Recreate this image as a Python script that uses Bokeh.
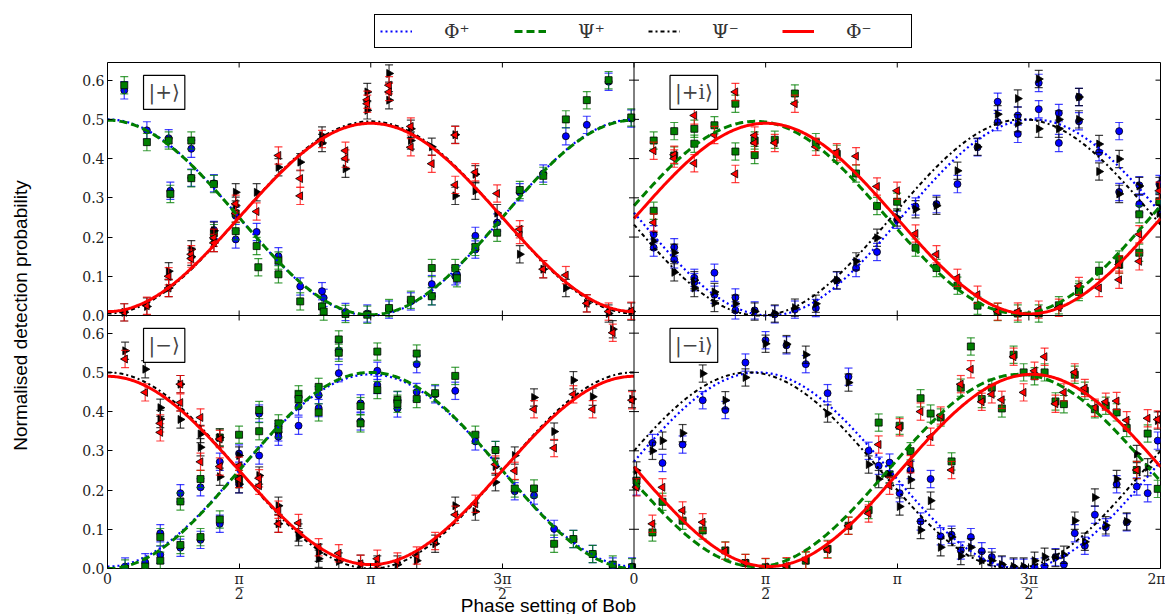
import numpy as np
from bokeh.plotting import figure
from bokeh.layouts import column
from bokeh.models import Range1d, FixedTicker, Span, Label, Legend, LegendItem
from bokeh.embed import file_html
from bokeh.resources import INLINE

PI = np.pi

# ---------------- tick labels ----------------
x_ticks = [0.0, PI / 2, PI, 3 * PI / 2, 2 * PI]
x_tick_text = ["0", "\u03c0\u0332\n2", "\u03c0", "3\u0332\u03c0\u0332\n2", "2\u03c0"]
y_ticks = [0.0, 0.1, 0.2, 0.3, 0.4, 0.5, 0.6]
y_tick_text = ["0.0", "0.1", "0.2", "0.3", "0.4", "0.5", "0.6"]

curve_labels = ["\u03a6\u207a", "\u03a8\u207a", "\u03a8\u207b", "\u03a6\u207b"]
panel_names = ["|+\u27e9", "|+i\u27e9", "|\u2212\u27e9", "|\u2212i\u27e9"]
x_title = "Phase setting of Bob"
y_title = "Normalised detection probability"

# ---------------- model curves: mean + amp*cos(theta - phase) ----------------
plus_curve_mean = [0.25, 0.25, 0.25, 0.25]
plus_curve_amp = [0.25, 0.248, -0.245, -0.24]
plus_curve_phase = [0.0, 0.0, 0.0, 0.0]

plusi_curve_mean = [0.25, 0.25, 0.25, 0.247]
plusi_curve_amp = [0.25, 0.245, 0.25, 0.243]
plusi_curve_phase = [4.76, 1.45, 4.64, 1.5708]

minus_curve_mean = [0.25, 0.25, 0.25, 0.25]
minus_curve_amp = [-0.245, -0.25, 0.25, 0.24]
minus_curve_phase = [0.0, 0.0, 0.0, 0.0]

minusi_curve_mean = [0.25, 0.25, 0.25, 0.25]
minusi_curve_amp = [0.25, 0.245, 0.25, 0.245]
minusi_curve_phase = [1.48, 4.60, 1.37, 4.75]

# ---------------- measured data: |+> ----------------
plus_blue_theta = [0.20, 0.47, 0.73, 0.75, 1.00, 1.00, 1.27, 1.27, 1.53, 1.53, 1.78, 2.04, 2.30, 2.56, 2.58, 2.84,
                   3.10, 3.36, 3.62, 3.87, 3.87, 4.15, 4.17, 4.39, 4.39, 4.65, 4.92, 5.20, 5.47, 5.72, 5.98, 6.25]
plus_blue_val = [0.574, 0.472, 0.452, 0.318, 0.425, 0.351, 0.337, 0.218, 0.254, 0.194, 0.213, 0.151, 0.074, 0.062,
                 0.045, 0.009, 0.005, 0.015, 0.036, 0.080, 0.049, 0.100, 0.105, 0.203, 0.168, 0.237, 0.314, 0.362,
                 0.457, 0.486, 0.596, 0.502]
plus_green_theta = [0.20, 0.47, 0.73, 0.75, 1.00, 1.00, 1.27, 1.27, 1.53, 1.53, 1.78, 1.80, 2.04, 2.04, 2.30, 2.56,
                    2.58, 2.84, 3.10, 3.36, 3.62, 3.87, 3.87, 4.15, 4.17, 4.39, 4.65, 4.92, 5.20, 5.47, 5.72, 5.98,
                    6.25]
plus_green_val = [0.587, 0.442, 0.446, 0.310, 0.446, 0.350, 0.335, 0.210, 0.260, 0.215, 0.177, 0.123, 0.140, 0.105,
                  0.036, 0.023, 0.010, 0.004, 0.002, 0.019, 0.040, 0.121, 0.049, 0.121, 0.095, 0.175, 0.211, 0.320,
                  0.356, 0.500, 0.549, 0.600, 0.505]
plus_black_theta = [0.20, 0.47, 0.73, 0.73, 1.00, 1.00, 1.27, 1.27, 1.53, 1.53, 1.78, 2.04, 2.30, 2.56, 2.56, 2.84,
                    3.10, 3.10, 3.36, 3.36, 3.62, 3.62, 3.87, 4.15, 4.15, 4.39, 4.39, 4.65, 4.92, 5.20, 5.47, 5.72,
                    5.98, 6.25]
plus_black_val = [0.008, 0.023, 0.113, 0.070, 0.169, 0.150, 0.216, 0.185, 0.314, 0.280, 0.314, 0.378, 0.391, 0.459,
                  0.440, 0.374, 0.570, 0.523, 0.617, 0.549, 0.476, 0.446, 0.430, 0.461, 0.305, 0.360, 0.318, 0.261,
                  0.156, 0.118, 0.070, 0.031, 0.005, 0.010]
plus_red_theta = [0.20, 0.47, 0.73, 0.73, 1.00, 1.00, 1.27, 1.27, 1.53, 1.53, 1.78, 2.04, 2.30, 2.30, 2.56, 2.84,
                  2.84, 3.10, 3.10, 3.36, 3.36, 3.62, 3.62, 3.87, 4.15, 4.15, 4.39, 4.65, 4.92, 4.92, 5.20, 5.47,
                  5.72, 5.98, 6.25]
plus_red_val = [0.008, 0.025, 0.100, 0.070, 0.156, 0.145, 0.198, 0.185, 0.285, 0.260, 0.265, 0.408, 0.349, 0.305,
                0.450, 0.400, 0.420, 0.550, 0.540, 0.587, 0.570, 0.482, 0.429, 0.387, 0.460, 0.333, 0.365, 0.311,
                0.220, 0.205, 0.118, 0.103, 0.031, 0.010, 0.012]

# ---------------- measured data: |+i> ----------------
plusi_blue_theta = [0.235, 0.235, 0.48, 0.48, 0.72, 0.72, 0.96, 0.96, 1.21, 1.21, 1.44, 1.68, 1.92, 2.17, 2.42,
                    2.65, 2.90, 3.14, 3.36, 3.61, 3.86, 4.10, 4.34, 4.34, 4.58, 4.58, 4.83, 4.83, 5.07, 5.07, 5.31,
                    5.31, 5.55, 5.79, 5.79, 6.03, 6.03, 6.27, 6.27]
plusi_blue_val = [0.207, 0.173, 0.174, 0.143, 0.096, 0.085, 0.109, 0.053, 0.046, 0.013, 0.013, 0.003, 0.015, 0.019,
                  0.089, 0.121, 0.162, 0.244, 0.278, 0.284, 0.335, 0.429, 0.545, 0.493, 0.510, 0.463, 0.593, 0.526,
                  0.516, 0.440, 0.557, 0.495, 0.416, 0.470, 0.315, 0.332, 0.284, 0.335, 0.288]
plusi_black_theta = [0.235, 0.48, 0.48, 0.72, 0.72, 0.96, 0.96, 1.21, 1.44, 1.68, 1.92, 2.17, 2.42, 2.65, 2.90,
                     3.14, 3.36, 3.61, 3.86, 4.10, 4.34, 4.58, 4.58, 4.83, 4.83, 5.07, 5.07, 5.31, 5.31, 5.55, 5.55,
                     5.79, 5.79, 6.03, 6.27, 6.27]
plusi_black_val = [0.190, 0.160, 0.110, 0.090, 0.070, 0.060, 0.032, 0.030, 0.010, 0.005, 0.020, 0.030, 0.090, 0.138,
                   0.198, 0.250, 0.271, 0.280, 0.369, 0.430, 0.513, 0.553, 0.490, 0.603, 0.476, 0.500, 0.476, 0.557,
                   0.500, 0.437, 0.367, 0.399, 0.310, 0.330, 0.330, 0.260]
plusi_green_theta = [0.235, 0.235, 0.48, 0.48, 0.72, 0.72, 0.96, 1.21, 1.21, 1.44, 1.44, 1.68, 1.92, 2.17, 2.42,
                     2.65, 2.90, 3.14, 3.36, 3.61, 3.86, 4.10, 4.34, 4.58, 4.83, 5.07, 5.31, 5.31, 5.55, 5.79, 5.79,
                     6.03, 6.03, 6.27]
plusi_green_val = [0.446, 0.267, 0.470, 0.408, 0.476, 0.438, 0.485, 0.540, 0.418, 0.446, 0.409, 0.448, 0.566, 0.442,
                   0.412, 0.362, 0.279, 0.290, 0.173, 0.121, 0.076, 0.025, 0.009, 0.005, 0.005, 0.026, 0.066, 0.060,
                   0.114, 0.143, 0.130, 0.258, 0.160, 0.290]
plusi_red_theta = [0.235, 0.235, 0.48, 0.48, 0.72, 0.72, 0.96, 1.21, 1.21, 1.44, 1.44, 1.68, 1.92, 2.17, 2.42,
                   2.65, 2.90, 3.14, 3.36, 3.61, 3.86, 4.10, 4.34, 4.58, 4.83, 5.07, 5.31, 5.55, 5.79, 5.79, 6.03,
                   6.03, 6.27]
plusi_red_val = [0.420, 0.237, 0.410, 0.400, 0.510, 0.388, 0.460, 0.570, 0.361, 0.459, 0.440, 0.440, 0.540, 0.430,
                 0.416, 0.406, 0.329, 0.318, 0.209, 0.156, 0.096, 0.053, 0.010, 0.010, 0.015, 0.020, 0.075, 0.070,
                 0.130, 0.091, 0.207, 0.138, 0.318]

# ---------------- measured data: |-> ----------------
minus_theta = [0.21, 0.45, 0.63, 0.63, 0.87, 0.87, 1.11, 1.11, 1.34, 1.34, 1.57, 1.57, 1.81, 1.81, 2.04, 2.04,
               2.28, 2.28, 2.52, 2.52, 2.76, 2.76, 3.02, 3.02, 3.22, 3.22, 3.46, 3.46, 3.69, 3.69, 3.91, 4.15,
               4.39, 4.63, 4.86, 5.09, 5.33, 5.56, 5.79, 6.03, 6.26]
minus_blue_val = [0.005, 0.016, 0.090, 0.035, 0.192, 0.053, 0.207, 0.073, 0.272, 0.114, 0.293, 0.215, 0.395, 0.288,
                  0.347, 0.336, 0.413, 0.364, 0.442, 0.409, 0.556, 0.498, 0.421, 0.375, 0.504, 0.468, 0.429, 0.408,
                  0.521, 0.450, 0.444, 0.453, 0.324, 0.302, 0.197, 0.186, 0.101, 0.075, 0.037, 0.005, 0.005]
minus_green_val = [0.000, 0.005, 0.080, 0.020, 0.171, 0.060, 0.228, 0.080, 0.334, 0.125, 0.341, 0.228, 0.404,
                   0.350, 0.370, 0.355, 0.444, 0.432, 0.463, 0.398, 0.584, 0.550, 0.414, 0.370, 0.553, 0.455, 0.430,
                   0.420, 0.548, 0.432, 0.447, 0.491, 0.341, 0.302, 0.204, 0.204, 0.063, 0.075, 0.037, 0.010, 0.003]
minus_black_theta = [0.21, 0.45, 0.63, 0.63, 0.87, 0.87, 1.11, 1.11, 1.34, 1.34, 1.57, 1.57, 1.81, 2.04, 2.04,
                     2.28, 2.28, 2.52, 2.52, 2.76, 3.02, 3.22, 3.46, 3.69, 3.91, 4.15, 4.39, 4.63, 4.63, 4.86, 5.09,
                     5.33, 5.56, 5.79, 6.03, 6.26]
minus_black_val = [0.555, 0.508, 0.410, 0.381, 0.470, 0.380, 0.343, 0.309, 0.334, 0.234, 0.288, 0.215, 0.237, 0.160,
                   0.114, 0.092, 0.080, 0.025, 0.040, 0.018, 0.012, 0.010, 0.010, 0.020, 0.063, 0.160, 0.145, 0.260,
                   0.220, 0.288, 0.436, 0.349, 0.480, 0.438, 0.610, 0.432]
minus_red_theta = [0.21, 0.45, 0.63, 0.63, 0.87, 0.87, 1.11, 1.11, 1.34, 1.34, 1.57, 1.57, 1.81, 1.81, 2.04, 2.04,
                   2.28, 2.52, 2.76, 3.02, 3.22, 3.46, 3.69, 3.91, 4.15, 4.39, 4.63, 4.86, 5.09, 5.33, 5.56, 5.79,
                   6.03, 6.26]
minus_red_val = [0.534, 0.449, 0.370, 0.347, 0.470, 0.423, 0.385, 0.272, 0.330, 0.260, 0.262, 0.228, 0.230, 0.211,
                 0.150, 0.114, 0.116, 0.054, 0.039, 0.012, 0.025, 0.018, 0.033, 0.070, 0.137, 0.165, 0.265, 0.249,
                 0.406, 0.307, 0.444, 0.406, 0.601, 0.429]

# ---------------- measured data: |-i> ----------------
minusi_theta = [0.03, 0.22, 0.34, 0.58, 0.82, 1.09, 1.33, 1.57, 1.82, 2.05, 2.31, 2.56, 2.80, 2.92, 3.05, 3.17,
                3.30, 3.42, 3.54, 3.66, 3.79, 3.90, 4.02, 4.15, 4.27, 4.39, 4.53, 4.65, 4.78, 4.90, 5.03, 5.13,
                5.26, 5.38, 5.50, 5.63, 5.76, 5.88, 6.00, 6.13, 6.25]
minusi_blue_val = [0.209, 0.320, 0.269, 0.316, 0.429, 0.404, 0.525, 0.582, 0.569, 0.521, 0.447, 0.489, 0.300,
                   0.262, 0.270, 0.192, 0.251, 0.120, 0.228, 0.082, 0.086, 0.046, 0.080, 0.044, 0.029, 0.008, 0.002,
                   0.002, 0.003, 0.005, 0.029, 0.010, 0.090, 0.058, 0.137, 0.105, 0.215, 0.118, 0.209, 0.192, 0.326]
minusi_black_val = [0.250, 0.300, 0.326, 0.345, 0.497, 0.429, 0.487, 0.573, 0.572, 0.545, 0.395, 0.474, 0.265,
                    0.228, 0.240, 0.158, 0.226, 0.098, 0.173, 0.054, 0.080, 0.032, 0.054, 0.020, 0.020, 0.010,
                    0.005, 0.005, 0.020, 0.030, 0.027, 0.035, 0.122, 0.068, 0.181, 0.110, 0.228, 0.120, 0.292,
                    0.258, 0.377]
minusi_green_val = [0.224, 0.092, 0.170, 0.122, 0.097, 0.046, 0.014, 0.003, 0.004, 0.020, 0.050, 0.109, 0.149,
                    0.372, 0.240, 0.364, 0.299, 0.434, 0.395, 0.385, 0.273, 0.461, 0.566, 0.432, 0.461, 0.408,
                    0.545, 0.500, 0.490, 0.500, 0.426, 0.419, 0.494, 0.453, 0.406, 0.415, 0.398, 0.358, 0.251,
                    0.344, 0.203]
minusi_red_val = [0.207, 0.114, 0.207, 0.148, 0.118, 0.045, 0.014, 0.004, 0.006, 0.021, 0.048, 0.109, 0.140, 0.316,
                  0.211, 0.360, 0.266, 0.400, 0.336, 0.390, 0.251, 0.470, 0.508, 0.425, 0.444, 0.430, 0.540, 0.449,
                  0.504, 0.540, 0.420, 0.449, 0.500, 0.460, 0.410, 0.425, 0.427, 0.378, 0.251, 0.383, 0.380]

error_half = 0.022

# ---------------- layout constants ----------------
FRAME_W, FRAME_H = 1053, 506
BORDER_L, BORDER_R, BORDER_T, BORDER_B = 107, 5, 4, 46
LEGEND_H = 58
CANVAS_W = BORDER_L + FRAME_W + BORDER_R
X_SPAN = 2 * PI
Y_SPAN = 0.645
TICK_PX = 5

SERIF = "DejaVu Serif"
SANS = "Liberation Sans"

colors = ["#0000ff", "#007f00", "#000000", "#ff0000"]
curve_dash = ["2 3", "8 4", "4 3 2 3", "solid"]
curve_width = [2.2, 3.0, 2.0, 3.0]
marker_kind = ["circle", "square", "triangle", "triangle"]
marker_angle = [0.0, 0.0, -PI / 2, PI / 2]
marker_size = [7, 7, 8, 8]

panels = [
    dict(name=panel_names[0], col=0, row=1,
         model=(plus_curve_mean, plus_curve_amp, plus_curve_phase),
         series=[(plus_blue_theta, plus_blue_val), (plus_green_theta, plus_green_val),
                 (plus_black_theta, plus_black_val), (plus_red_theta, plus_red_val)]),
    dict(name=panel_names[1], col=1, row=1,
         model=(plusi_curve_mean, plusi_curve_amp, plusi_curve_phase),
         series=[(plusi_blue_theta, plusi_blue_val), (plusi_green_theta, plusi_green_val),
                 (plusi_black_theta, plusi_black_val), (plusi_red_theta, plusi_red_val)]),
    dict(name=panel_names[2], col=0, row=0,
         model=(minus_curve_mean, minus_curve_amp, minus_curve_phase),
         series=[(minus_theta, minus_blue_val), (minus_theta, minus_green_val),
                 (minus_black_theta, minus_black_val), (minus_red_theta, minus_red_val)]),
    dict(name=panel_names[3], col=1, row=0,
         model=(minusi_curve_mean, minusi_curve_amp, minusi_curve_phase),
         series=[(minusi_theta, minusi_blue_val), (minusi_theta, minusi_green_val),
                 (minusi_theta, minusi_black_val), (minusi_theta, minusi_red_val)]),
]

p = figure(frame_width=FRAME_W, frame_height=FRAME_H, output_backend="svg", toolbar_location=None,
           x_range=Range1d(0, 2 * X_SPAN), y_range=Range1d(0, 2 * Y_SPAN),
           min_border_left=BORDER_L, min_border_right=BORDER_R, min_border_top=BORDER_T,
           min_border_bottom=BORDER_B)
p.grid.visible = False
p.outline_line_color = "black"
p.outline_line_width = 1
p.background_fill_color = "white"
p.border_fill_color = "white"

# ---- ticks ----
all_x_ticks = list(x_ticks[:-1]) + [X_SPAN + t for t in x_ticks]
all_x_text = list(x_tick_text[:-1]) + [x_tick_text[0]] + list(x_tick_text[1:])
all_y_ticks = list(y_ticks) + [Y_SPAN + t for t in y_ticks]
all_y_text = list(y_tick_text) + list(y_tick_text)


def style_axis(ax):
    ax.axis_line_color = None
    ax.major_tick_in = TICK_PX
    ax.major_tick_out = 0
    ax.minor_tick_in = 0
    ax.minor_tick_out = 0
    ax.major_tick_line_color = "black"
    ax.major_label_text_font = SERIF
    ax.major_label_text_color = "#222222"
    ax.major_label_text_font_size = "14px"
    ax.major_label_standoff = 3


xa = p.xaxis[0]
xa.ticker = FixedTicker(ticks=all_x_ticks)
xa.major_label_overrides = {float(t): s for t, s in zip(all_x_ticks, all_x_text)}
style_axis(xa)
xa.major_label_text_line_height = 0.95
xa.major_label_standoff = 2
# trailing em-spaces shift the centred title left, as in the original figure
xa.axis_label = x_title + "\u2003" * 9
xa.axis_label_text_font = SANS
xa.axis_label_text_font_size = "19px"
xa.axis_label_text_font_style = "normal"
xa.axis_label_text_color = "black"
xa.axis_label_standoff = -10

ya = p.yaxis[0]
ya.ticker = FixedTicker(ticks=all_y_ticks)
ya.major_label_overrides = {float(t): s for t, s in zip(all_y_ticks, all_y_text)}
style_axis(ya)
ya.axis_label = y_title
ya.axis_label_text_font = SANS
ya.axis_label_text_font_size = "19px"
ya.axis_label_text_font_style = "normal"
ya.axis_label_text_color = "black"
ya.axis_label_standoff = 48

# separators between panels
p.add_layout(Span(location=X_SPAN, dimension="height", line_color="black", line_width=1))
p.add_layout(Span(location=Y_SPAN, dimension="width", line_color="black", line_width=1))

# inward tick marks on the top/right edges and on the inner separators
dx = TICK_PX * (2 * X_SPAN) / FRAME_W
dy = TICK_PX * (2 * Y_SPAN) / FRAME_H
ny, nx = len(all_y_ticks), len(all_x_ticks)
x_right = 2 * X_SPAN
y_top = 2 * Y_SPAN
p.segment(x0=[X_SPAN - dx] * ny, x1=[X_SPAN + dx] * ny, y0=all_y_ticks, y1=all_y_ticks,
          line_color="black", line_width=1)
p.segment(x0=[x_right - dx] * ny, x1=[x_right] * ny, y0=all_y_ticks, y1=all_y_ticks,
          line_color="black", line_width=1)
p.segment(x0=all_x_ticks, x1=all_x_ticks, y0=[Y_SPAN - dy] * nx, y1=[Y_SPAN + dy] * nx,
          line_color="black", line_width=1)
p.segment(x0=all_x_ticks, x1=all_x_ticks, y0=[y_top - dy] * nx, y1=[y_top] * nx,
          line_color="black", line_width=1)

theta_grid = np.linspace(0, 2 * PI, 400)

for panel in panels:
    xo = panel["col"] * X_SPAN
    yo = panel["row"] * Y_SPAN
    # data points with error bars
    for k, (th, val) in enumerate(panel["series"]):
        xs = np.array(th) + xo
        ys = np.array(val) + yo
        lo = ys - error_half
        hi = ys + error_half
        p.segment(x0=xs, x1=xs, y0=lo, y1=hi, line_color=colors[k], line_width=1.2, line_alpha=0.75)
        p.scatter(np.concatenate([xs, xs]), np.concatenate([lo, hi]), marker="dash", size=8,
                  line_color=colors[k], line_width=1.2, line_alpha=0.75)
        p.scatter(xs, ys, marker=marker_kind[k], angle=marker_angle[k], size=marker_size[k],
                  fill_color=colors[k], line_color="black", line_width=0.8)
    # model curves
    mean, amp, phase = panel["model"]
    for k in range(4):
        yc = mean[k] + amp[k] * np.cos(theta_grid - phase[k])
        p.line(theta_grid + xo, yc + yo, line_color=colors[k], line_width=curve_width[k],
               line_dash=curve_dash[k])
    # state box
    p.add_layout(Label(x=xo + 0.43, y=yo + 0.612, text=panel["name"], text_font=SERIF,
                       text_font_size="20px", text_color="#444444", text_align="left",
                       text_baseline="top", border_line_color="black", border_line_width=1.2,
                       background_fill_color="white", padding=5))

# ---------------- legend strip above the panels ----------------
lf = figure(width=CANVAS_W, height=LEGEND_H, output_backend="svg", toolbar_location=None,
            x_range=Range1d(0, 1), y_range=Range1d(0, 1), min_border=0)
lf.axis.visible = False
lf.grid.visible = False
lf.outline_line_color = None
lf.background_fill_color = "white"
lf.border_fill_color = "white"
nan_x = [float("nan"), float("nan")]
nan_y = [float("nan"), float("nan")]
legend_renderers = [lf.line(x=nan_x, y=nan_y, line_color=colors[k], line_width=curve_width[k],
                            line_dash=curve_dash[k]) for k in range(4)]
legend = Legend(items=[LegendItem(label=curve_labels[k], renderers=[legend_renderers[k]]) for k in range(4)],
                orientation="horizontal", location=(267, 10), glyph_width=32, glyph_height=20,
                label_standoff=32, label_width=60, spacing=10, padding=5, margin=0,
                border_line_color="black", border_line_width=1.2, border_line_alpha=1.0,
                label_text_font=SERIF, label_text_font_size="19px", label_text_color="#333333",
                background_fill_color="white", background_fill_alpha=1.0)
lf.add_layout(legend)

layout = column(lf, p, spacing=0)
open("out.html", "w").write(file_html(layout, INLINE))
